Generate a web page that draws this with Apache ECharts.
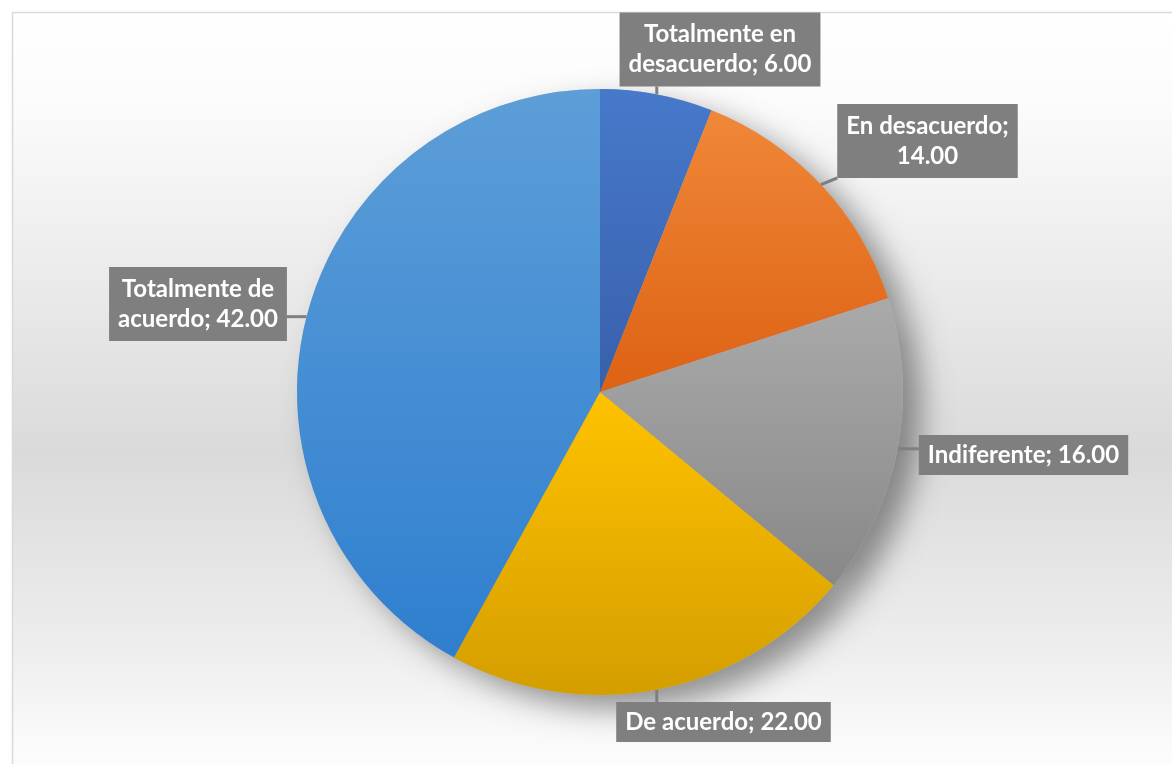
<!DOCTYPE html>
<html>
<head>
<meta charset="utf-8">
<style>
  html, body { margin: 0; padding: 0; background: #ffffff; }
  #chart { width: 1172px; height: 764px; }
</style>
<script src="https://cdn.jsdelivr.net/npm/echarts@6/dist/echarts.min.js"></script>
</head>
<body>
<div id="chart"></div>
<script>
// ---- Data ----
const categories = ['Totalmente en desacuerdo', 'En desacuerdo', 'Indiferente', 'De acuerdo', 'Totalmente de acuerdo'];
const values = [6, 14, 16, 22, 42];
// words before the line break in each label (0 = single line)
const breakAfterWord = [2, 2, 0, 0, 2];

// ---- Styles ----
const sliceGradients = [
  ['#4779ca', '#3860ab'],
  ['#f08738', '#dd6214'],
  ['#aaaaaa', '#888888'],
  ['#ffc200', '#d49e00'],
  ['#5d9ed8', '#2f7fcf']
];
const labelCenters = [
  [720, 49.5],
  [927.5, 141],
  [1023.5, 455],
  [723.5, 722],
  [198, 304]
];
const labelPadding = [[7, 9, 7, 9], [7, 9, 7, 9], [5, 9, 5, 9], [5, 9, 5, 9], [7, 9, 7, 9]];

function grad(c) {
  return { type: 'linear', x: 0, y: 0, x2: 0, y2: 1, colorStops: [{ offset: 0, color: c[0] }, { offset: 1, color: c[1] }] };
}

const pieData = categories.map((name, i) => ({
  name: name,
  value: values[i],
  itemStyle: { color: grad(sliceGradients[i]) },
  label: { padding: labelPadding[i] }
}));

const shadowData = categories.map((name, i) => ({ name: name, value: values[i] }));

const chart = echarts.init(document.getElementById('chart'), null, { renderer: 'canvas' });

const option = {
  animation: false,
  graphic: [{
    type: 'rect',
    z: -10,
    silent: true,
    shape: { x: 12.5, y: 12.5, width: 1200, height: 800 },
    style: {
      fill: {
        type: 'linear', x: 0, y: 0, x2: 0, y2: 1, global: false,
        colorStops: [
          { offset: 0, color: '#ffffff' },
          { offset: 0.12, color: '#fbfbfb' },
          { offset: 0.55, color: '#dadada' },
          { offset: 0.8, color: '#eeeeee' },
          { offset: 0.92, color: '#fbfbfb' },
          { offset: 1, color: '#ffffff' }
        ]
      },
      stroke: '#d9d9d9',
      lineWidth: 1.5
    }
  }],
  series: [
    {
      // shadow layer under the pie
      type: 'pie',
      silent: true,
      z: 1,
      center: [600, 392],
      radius: 303,
      startAngle: 90,
      label: { show: false },
      labelLine: { show: false },
      itemStyle: {
        color: '#bdbdbd',
        shadowBlur: 30,
        shadowColor: 'rgba(0,0,0,0.4)',
        shadowOffsetX: 18,
        shadowOffsetY: 14
      },
      emphasis: { disabled: true },
      data: shadowData
    },
    {
      type: 'pie',
      z: 2,
      center: [600, 392],
      radius: 303,
      startAngle: 90,
      clockwise: true,
      emphasis: { disabled: true },
      label: {
        show: true,
        position: 'outside',
        formatter: function (p) {
          const text = p.name + '; ' + p.value.toFixed(2);
          const n = breakAfterWord[p.dataIndex];
          if (!n) return text;
          const words = text.split(' ');
          return words.slice(0, n).join(' ') + '\n' + words.slice(n).join(' ');
        },
        fontFamily: 'Lato, "Open Sans", sans-serif',
        fontWeight: 'bold',
        fontSize: 24,
        lineHeight: 30,
        color: '#ffffff',
        backgroundColor: '#7f7f7f',
        align: 'center'
      },
      labelLine: {
        show: true,
        length: 5,
        length2: 5,
        smooth: false,
        lineStyle: { color: '#7f7f7f', width: 3 }
      },
      labelLayout: function (params) {
        const i = params.dataIndex;
        const c = labelCenters[i];
        const w = params.labelRect.width, h = params.labelRect.height;
        const bx = c[0] - w / 2, by = c[1] - h / 2;
        const out = { x: c[0], y: c[1], align: 'center', verticalAlign: 'middle' };
        const pts = params.labelLinePoints;
        if (pts && pts.length) {
          const tip = pts[0];
          const nx = Math.min(Math.max(tip[0], bx), bx + w);
          const ny = Math.min(Math.max(tip[1], by), by + h);
          out.labelLinePoints = [tip, [nx, ny], [nx, ny]];
        }
        return out;
      },
      data: pieData
    }
  ]
};

chart.setOption(option);
</script>
</body>
</html>
